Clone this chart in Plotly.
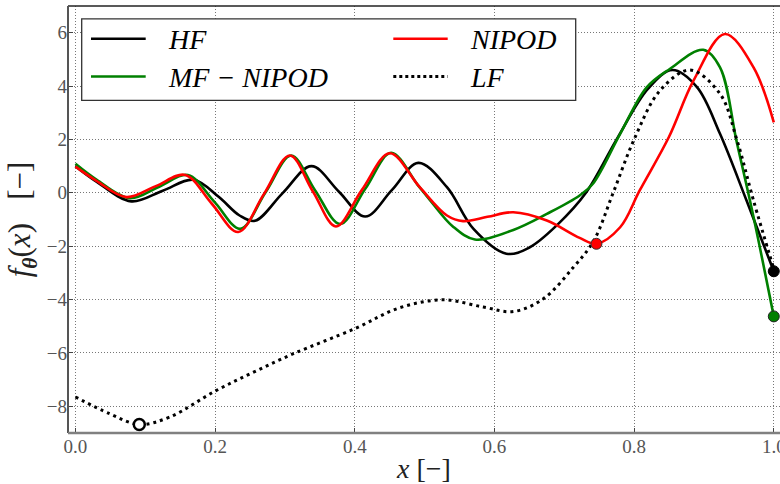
import plotly.graph_objects as go

# ---------------- data ----------------
hf_x = [0.0, 0.03, 0.08, 0.125, 0.169, 0.205, 0.235, 0.257, 0.297, 0.338, 0.377, 0.415, 0.453, 0.491,
        0.532, 0.570, 0.617, 0.65, 0.69, 0.731, 0.775, 0.82, 0.855, 0.89, 0.923, 0.961, 1.0]
hf_y = [1.0, 0.42, -0.32, 0.08, 0.49, -0.15, -0.85, -1.05, 0.0, 1.0, 0.05, -0.89, 0.1, 1.12,
        0.21, -1.35, -2.28, -2.05, -1.2, 0.0, 2.0, 3.9, 4.6, 3.96, 2.21, -0.29, -2.94]

mf_x = [0.0, 0.03, 0.078, 0.12, 0.161, 0.199, 0.236, 0.2725, 0.309, 0.343, 0.379, 0.415, 0.452,
        0.49, 0.51, 0.54, 0.572, 0.627, 0.675, 0.722, 0.741, 0.78, 0.818, 0.851, 0.899, 0.923,
        0.947, 0.971, 1.0]
mf_y = [1.09, 0.5, -0.2, 0.23, 0.67, -0.34, -1.35, 0.03, 1.40, 0.1, -1.17, 0.15, 1.5,
        0.3, -0.35, -1.25, -1.75, -1.39, -0.79, -0.1, 0.34, 2.21, 3.95, 4.64, 5.36, 4.7,
        1.9, -0.91, -4.63]

ni_x = [0.0, 0.03, 0.073, 0.115, 0.157, 0.195, 0.233, 0.27, 0.307, 0.34, 0.373, 0.41, 0.450,
        0.493, 0.532, 0.555, 0.59, 0.627, 0.675, 0.722, 0.746, 0.78, 0.808, 0.85, 0.885, 0.93,
        0.971, 1.0]
ni_y = [0.98, 0.45, -0.16, 0.25, 0.67, -0.4, -1.47, -0.04, 1.40, 0.05, -1.26, 0.1, 1.48,
        0.21, -0.85, -1.06, -0.9, -0.73, -1.04, -1.69, -1.91, -1.29, 0.09, 2.1, 4.2, 5.95,
        4.7, 2.64]

lf_x = [0.0, 0.049, 0.0914, 0.135, 0.2, 0.255, 0.312, 0.40, 0.465, 0.527, 0.584, 0.627, 0.67,
        0.713, 0.742, 0.77, 0.80, 0.837, 0.88, 0.923, 0.947, 0.971, 1.0]
lf_y = [-7.65, -8.28, -8.68, -8.4, -7.43, -6.72, -6.03, -5.09, -4.3, -4.01, -4.28, -4.45, -3.97,
        -2.79, -1.8, 0.0, 2.0, 3.83, 4.6, 3.71, 2.0, -0.29, -2.85]

# highlighted points
lf_min = (0.0914, -8.68)
hf_end = (1.0, -2.94)
mf_end = (1.0, -4.63)
ni_min = (0.746, -1.91)

legend_names = ["HF", "MF − NIPOD", "NIPOD", "LF"]
x_ticks = [0.0, 0.2, 0.4, 0.6, 0.8, 1.0]
y_ticks = [-8, -6, -4, -2, 0, 2, 4, 6]

# ---------------- figure ----------------
SERIF = "Liberation Serif"
fig = go.Figure()

def add_line(x, y, color, dash=None, width=2.6):
    fig.add_trace(go.Scatter(x=x, y=y, mode="lines",
                             line=dict(color=color, width=width, shape="spline",
                                       smoothing=1.0, dash=dash),
                             showlegend=False, hoverinfo="skip"))

add_line(hf_x, hf_y, "black")
add_line(mf_x, mf_y, "green")
add_line(ni_x, ni_y, "red")
add_line(lf_x, lf_y, "black", dash="3px,4px", width=3)

def add_pt(p, fill, edge, ew=1):
    fig.add_trace(go.Scatter(x=[p[0]], y=[p[1]], mode="markers",
                             marker=dict(size=11, color=fill, line=dict(color=edge, width=ew)),
                             showlegend=False, hoverinfo="skip", cliponaxis=False))

add_pt(lf_min, "white", "black", 2.5)
add_pt(ni_min, "red", "#333", 1)
add_pt(hf_end, "black", "black", 1)
add_pt(mf_end, "green", "#222", 1)

# plot area geometry (px)
L, R, T, B = 68, 780, 5.5, 432.7
W, H = 780, 484

def px(xp):
    return (xp - L) / (R - L)

def py(yp):
    return (B - yp) / (B - T)

shapes = []
annotations = []
# spines
shapes.append(dict(type="line", xref="paper", yref="paper", x0=0, x1=1, y0=1, y1=1,
                   line=dict(color="#222", width=1.5)))
shapes.append(dict(type="line", xref="paper", yref="paper", x0=0, x1=0, y0=0, y1=1,
                   line=dict(color="#555", width=2)))
shapes.append(dict(type="line", xref="paper", yref="paper", x0=0, x1=1, y0=0, y1=0,
                   line=dict(color="#808080", width=2.5)))

# legend box
shapes.append(dict(type="rect", xref="paper", yref="paper",
                   x0=px(81.7), x1=px(575.7), y0=py(100), y1=py(18.3),
                   line=dict(color="#333", width=1.3), fillcolor="white", layer="above"))
leg = [
    (legend_names[0], "black", None, 91, 145.7, 166, 38.3),
    (legend_names[1], "green", None, 91, 145.7, 166, 76),
    (legend_names[2], "red", None, 393.3, 447.7, 468, 38.3),
    (legend_names[3], "black", "dot", 393.3, 447.7, 468, 76),
]
for name, col, dash, lx0, lx1, tx, ty in leg:
    shapes.append(dict(type="line", xref="paper", yref="paper", x0=px(lx0), x1=px(lx1),
                       y0=py(ty), y1=py(ty), layer="above",
                       line=dict(color=col, width=3 if dash else 2.6,
                                 dash="3px,3px" if dash else None)))
    annotations.append(dict(xref="paper", yref="paper", x=px(tx), y=py(ty + 1),
                            text="<i>" + name + "</i>", showarrow=False,
                            xanchor="left", yanchor="middle",
                            font=dict(family=SERIF, size=28, color="black")))

fig.update_layout(
    width=W, height=H,
    margin=dict(l=L, r=W - R, t=T, b=H - B, autoexpand=False),
    paper_bgcolor="white", plot_bgcolor="white",
    shapes=shapes, annotations=annotations,
    showlegend=False,
    font=dict(family=SERIF, color="#444"),
)
fig.update_xaxes(range=[-0.0107, 1.0089], tickvals=x_ticks,
                 ticktext=[f"{v:.1f}" for v in x_ticks],
                 ticklabeloverflow="allow",
                 showgrid=True, gridcolor="#777", griddash="1px,2px", gridwidth=1,
                 zeroline=False, showline=False,
                 ticks="inside", ticklen=5, tickcolor="#444", tickwidth=1,
                 tickfont=dict(family=SERIF, size=19, color="#555"),
                 title=dict(text="<i>x</i> [−]", font=dict(family=SERIF, size=28, color="#222"),
                            standoff=6))
fig.update_yaxes(range=[-9, 7], tickvals=y_ticks,
                 ticktext=[("−" + str(-v)) if v < 0 else str(v) for v in y_ticks],
                 showgrid=True, gridcolor="#777", griddash="1px,2px", gridwidth=1,
                 zeroline=False, showline=False,
                 ticks="inside", ticklen=5, tickcolor="#444", tickwidth=1,
                 tickfont=dict(family=SERIF, size=19, color="#555"),
                 title=dict(text="<i>f</i><sub><b><i>θ</i></b></sub>(<i>x</i>)   [−]",
                            font=dict(family=SERIF, size=31, color="#222"), standoff=6))

fig.write_html("out.html", config={"displayModeBar": False},
               post_script="document.body.style.margin='0';document.body.style.overflow='hidden';")
